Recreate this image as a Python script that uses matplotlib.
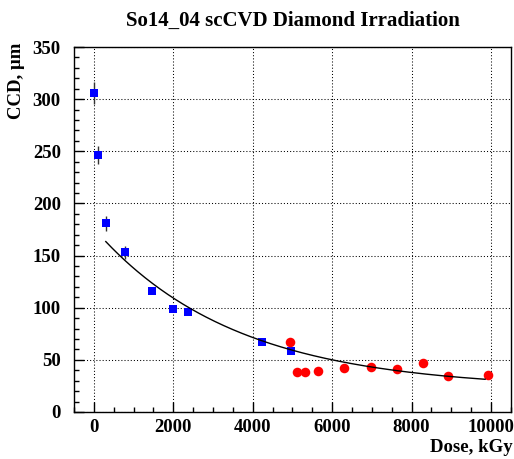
import numpy as np
import matplotlib
matplotlib.use('Agg')
import matplotlib.pyplot as plt
from matplotlib.ticker import MultipleLocator

plt.rcParams['font.family'] = ['Liberation Serif', 'DejaVu Serif']
plt.rcParams['font.weight'] = 'bold'

# Blue: CCD before/low dose irradiation steps
dose_blue = [8, 108, 308, 794, 1470, 1997, 2381, 4244, 4955]
ccd_blue = [305.6, 246.4, 180.9, 153.0, 116.3, 98.8, 96.2, 67.4, 58.5]
err_blue = [10.5, 9.0, 7.0, 6.0, 2.0, 2.0, 2.0, 2.0, 2.0]

# Red: later irradiation points
dose_red = [4942, 5120, 5305, 5639, 6296, 6965, 7634, 8278, 8922, 9925]
ccd_red = [66.8, 38.6, 38.6, 39.3, 41.9, 43.1, 40.9, 46.7, 34.8, 35.4]

# fit: p0 + p1*exp(-p2*D)
fit_p0 = 22.0
fit_p1 = 154.0
fit_p2 = 2.84e-4
fit_range = (300, 9850)

fig = plt.figure(figsize=(5.14, 4.59), dpi=100)
ax = fig.add_axes([0.144, 0.1024, 0.850, 0.7952])

ax.errorbar(dose_blue, ccd_blue, yerr=err_blue, fmt='none', ecolor='#333333',
            elinewidth=1.0, capsize=0, zorder=2)
ax.plot(dose_blue, ccd_blue, 's', color='#0000ff', markersize=6.3,
        markeredgewidth=0, zorder=3)
ax.plot(dose_red, ccd_red, 'o', color='#ff0000', markersize=6.9,
        markeredgewidth=0, zorder=3)

d = np.linspace(fit_range[0], fit_range[1], 300)
ax.plot(d, fit_p0 + fit_p1 * np.exp(-fit_p2 * d), color='black', lw=1.0, zorder=4)

ax.set_xlim(-500, 10500)
ax.set_ylim(0, 350)
ax.xaxis.set_major_locator(MultipleLocator(2000))
ax.xaxis.set_minor_locator(MultipleLocator(500))
ax.yaxis.set_major_locator(MultipleLocator(50))
ax.yaxis.set_minor_locator(MultipleLocator(10))
ax.tick_params(which='both', direction='in', top=False, right=False, width=1.0)
ax.tick_params(which='major', length=7, labelsize=13.5)
ax.tick_params(which='minor', length=3.5)
ax.tick_params(axis='y', pad=9.5)
ax.tick_params(axis='x', pad=5)
for lab in ax.get_xticklabels() + ax.get_yticklabels():
    lab.set_fontweight('bold')
for s in ax.spines.values():
    s.set_linewidth(1.0)

ax.grid(True, which='major', color='black', linestyle=(0, (1, 2)), linewidth=0.75)

ax.set_title('So14_04 scCVD Diamond Irradiation', fontsize=15,
             fontweight='bold', pad=15)
fig.text(0.033, 0.907, 'CCD, \u03bcm', rotation=90, ha='center', va='top',
         fontsize=13.5, fontweight='bold')
fig.text(0.997, 0.006, 'Dose, kGy', ha='right', va='bottom',
         fontsize=13.5, fontweight='bold')

plt.savefig('out.png', dpi=100)
